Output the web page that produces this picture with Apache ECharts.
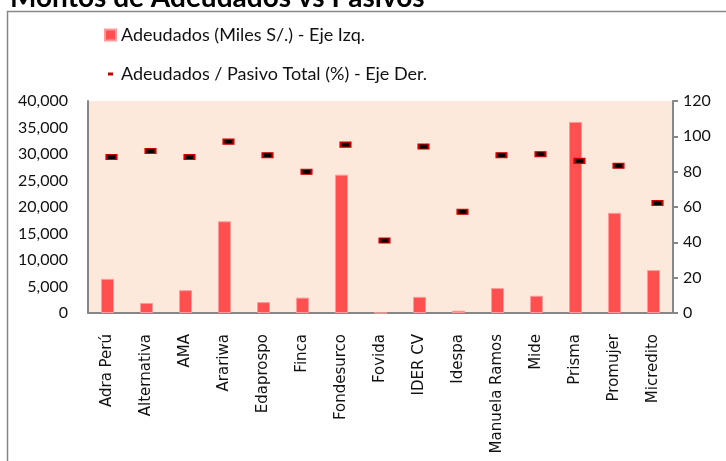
<!DOCTYPE html>
<html>
    <head>
        <meta charset="utf-8">
        <script src="https://cdn.jsdelivr.net/npm/echarts@6.0.0/dist/echarts.min.js"></script>
        <style>
            body { margin: 0; background: #fff; }
        </style>
    </head>
    <body>
        <div id="main" style="width: 726px; height: 461px;"></div>
        <script>
            // entidades
            var categorias = ['Adra Perú', 'Alternativa', 'AMA', 'Arariwa', 'Edaprospo', 'Finca', 'Fondesurco',
                'Fovida', 'IDER CV', 'Idespa', 'Manuela Ramos', 'Mide', 'Prisma', 'Promujer', 'Micredito'];
            // Adeudados en miles de soles (eje izq.)
            var adeudados = [6450, 1900, 4300, 17300, 2050, 2900, 26100, 0, 3050, 430, 4700, 3250, 36050, 18900, 8100];
            // Adeudados / Pasivo total en % (eje der.)
            var ratioPasivo = [88.3, 91.7, 88.3, 97.0, 89.3, 79.9, 95.3, 41.0, 94.2, 57.3, 89.3, 89.9, 86.1, 83.4, 62.3];

            var chartDom = document.getElementById('main');
            var myChart = echarts.init(chartDom);
            var fuente = 'Lato, "Open Sans", sans-serif';
            var gris = '#878787';

            var option = {
                animation: false,
                textStyle: { fontFamily: fuente },
                title: {
                    text: 'Montos de Adeudados vs Pasivos',
                    left: 5,
                    top: -21,
                    textStyle: { fontSize: 28, fontWeight: 'bold', color: '#000', fontFamily: fuente }
                },
                graphic: [{
                    type: 'rect',
                    shape: { x: 7.5, y: 11.5, width: 800, height: 600 },
                    style: { fill: null, stroke: gris, lineWidth: 1.5 },
                    silent: true
                }],
                legend: {
                    orient: 'vertical',
                    left: 99,
                    top: 21,
                    itemGap: 21,
                    itemWidth: 11,
                    itemHeight: 11,
                    textStyle: { fontSize: 18, color: '#111' },
                    data: [
                        { name: 'Adeudados (Miles S/.) - Eje Izq.', icon: 'rect' },
                        {
                            name: 'Adeudados / Pasivo Total (%) - Eje Der.',
                            icon: 'path://M0,0 M11,11 M3,4 H8 V7 H3 Z',
                            itemStyle: { color: '#c00000', borderWidth: 0 }
                        }
                    ]
                },
                grid: {
                    left: 88,
                    right: 53,
                    top: 101,
                    bottom: 148,
                    show: true,
                    backgroundColor: '#fce9db',
                    borderWidth: 0
                },
                xAxis: {
                    type: 'category',
                    data: categorias,
                    axisLine: { lineStyle: { color: gris, width: 2 } },
                    axisTick: { show: false },
                    axisLabel: {
                        rotate: 90, margin: 21, fontSize: 15, color: '#111', interval: 0,
                        fontFamily: '"DejaVu Sans", sans-serif'
                    }
                },
                yAxis: [{
                    type: 'value',
                    min: 0,
                    max: 40000,
                    interval: 5000,
                    axisLine: { show: true, lineStyle: { color: gris, width: 2 } },
                    axisTick: { show: false },
                    splitLine: { show: false },
                    axisLabel: { fontSize: 16, color: '#111', margin: 20 }
                }, {
                    type: 'value',
                    min: 0,
                    max: 120,
                    interval: 20,
                    position: 'right',
                    axisLine: { show: true, lineStyle: { color: gris, width: 2 } },
                    axisTick: { show: true, length: 5, lineStyle: { color: gris, width: 2 } },
                    splitLine: { show: false },
                    axisLabel: { fontSize: 16, color: '#111', margin: 10 }
                }],
                series: [{
                    name: 'Adeudados (Miles S/.) - Eje Izq.',
                    type: 'bar',
                    yAxisIndex: 0,
                    barWidth: 13,
                    data: adeudados,
                    itemStyle: { color: '#ff4f4f', borderColor: '#ff9a9a', borderWidth: 1 }
                }, {
                    name: 'Adeudados / Pasivo Total (%) - Eje Der.',
                    type: 'scatter',
                    yAxisIndex: 1,
                    symbol: 'rect',
                    symbolSize: [10, 5],
                    symbolOffset: [4, 0],
                    data: ratioPasivo,
                    itemStyle: { color: '#000', borderColor: '#d00000', borderWidth: 1.5, opacity: 1 }
                }]
            };

            option && myChart.setOption(option);
        </script>
    </body>
</html>
